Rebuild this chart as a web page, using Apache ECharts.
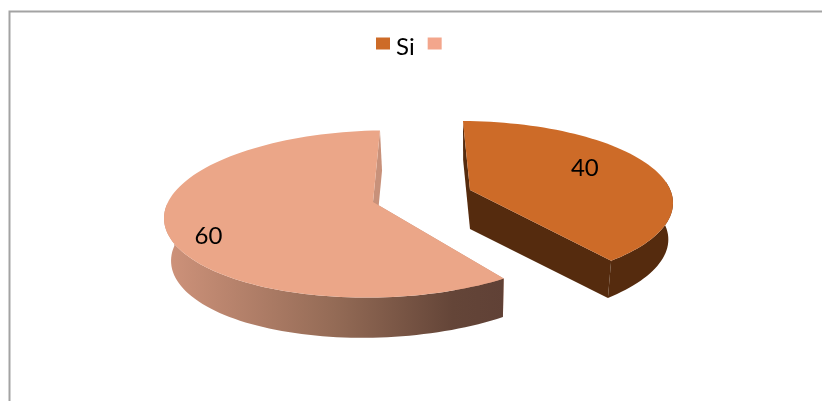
<!DOCTYPE html>
<html><head><meta charset="utf-8">
<style>html,body{margin:0;padding:0;background:#fff}#c{width:822px;height:401px}</style>
<script src="https://cdn.jsdelivr.net/npm/echarts@6/dist/echarts.min.js"></script>
</head><body><div id="c"></div>
<script>
const sliceNames = ['Si', '\u00a0'];
const sliceValues = [40, 60];
const sliceLabels = ['40', '60'];

const DEPTH = 40, DEPTH_X = 377, DEPTH_SLOPE = 0.012, VANISH_X = 470, SHRINK = 0.023;
const FONT = 'Lato, "Open Sans", sans-serif';
const looks = [
  { legend:'#cd6b28', top:'#cd6b28', radial:'#552b0e', wall:'#552b0e', tilt:0,
    center:[460,203], rx:213, ry:82, apex:[470,190], rimShift:0.8, rimScale:134/144, labelR:.684, labelAt:60 },
  { legend:'#f3a68c', top:'#eba688', radial:'#c8917a', tilt:0.02,
    wall:[[0,'#cf937b'],[.5,'#946b56'],[.85,'#644538'],[1,'#604136']],
    center:[377,214], rx:213, ry:83.5, apex:[373,202], rimShift:-0.5, rimScale:217.3/216, labelR:.828, labelAt:252 }
];

const rad = d => d * Math.PI / 180;
const total = sliceValues.reduce((a, b) => a + b, 0);
let acc = 0;
const ranges = sliceValues.map(v => { const r = [acc / total * 360, (acc + v) / total * 360]; acc += v; return r; });
const drop = p => [p[0] + (VANISH_X - p[0]) * SHRINK, p[1] + DEPTH + (DEPTH_X - p[0]) * DEPTH_SLOPE];

function renderSlice(i) {
  const L = looks[i], [a0, a1] = ranges[i];
  const at = deg => {
    const phi = rad(a0 + L.rimShift + (deg - a0) * L.rimScale);
    const dx = L.rx * Math.sin(phi);
    return [L.center[0] + dx, L.center[1] - L.ry * Math.cos(phi) - dx * L.tilt];
  };
  const rim = (from, to) => {
    const pts = [], n = Math.max(2, Math.ceil((to - from) / 2));
    for (let k = 0; k <= n; k++) pts.push(at(from + (to - from) * k / n));
    return pts;
  };
  const topRim = rim(a0, a1), apex = L.apex, s = topRim[0], e = topRim[topRim.length - 1];
  const children = [];
  const quad = (pts, fill) => children.push({ type:'polygon', shape:{ points:pts }, style:{ fill } });
  quad([s, apex, drop(apex), drop(s)], L.radial);
  quad([e, apex, drop(apex), drop(e)], L.radial);
  const front = rim(Math.max(a0, 80), Math.min(a1, 280));
  const wallFill = Array.isArray(L.wall)
    ? new echarts.graphic.LinearGradient(0, 0, 1, 0, L.wall.map(c => ({ offset:c[0], color:c[1] })))
    : L.wall;
  quad(front.concat(front.slice().reverse().map(drop)), wallFill);
  quad([apex].concat(topRim), L.top);
  const r = at(L.labelAt);
  children.push({ type:'text', style:{ text:sliceLabels[i],
    x:apex[0] + (r[0] - apex[0]) * L.labelR, y:apex[1] + (r[1] - apex[1]) * L.labelR,
    align:'center', verticalAlign:'middle', font:'24px ' + FONT, fill:'#000' } });
  return { type:'group', children };
}

const chart = echarts.init(document.getElementById('c'));
chart.setOption({
  animation:false,
  backgroundColor:'#fff',
  legend:{ left:371, top:30, data:sliceNames, icon:'rect', itemWidth:14, itemHeight:12, itemGap:13,
    selectedMode:false, formatter:n => '{t|' + n + '}',
    textStyle:{ rich:{ t:{ fontFamily:FONT, fontSize:24, color:'#000', padding:[7,0,0,1] } } } },
  graphic:[{ type:'polyline', shape:{ points:[[9.5,401],[9.5,11.5],[822,11.5]] },
    style:{ stroke:'#a3a3a3', lineWidth:2, fill:null }, silent:true }],
  series: sliceNames.map((name, i) => ({
    type:'custom', name, coordinateSystem:'none', z: i === 0 ? 3 : 2,
    itemStyle:{ color:looks[i].legend },
    data:[sliceValues[i]],
    renderItem:() => renderSlice(i)
  }))
});
</script></body></html>
